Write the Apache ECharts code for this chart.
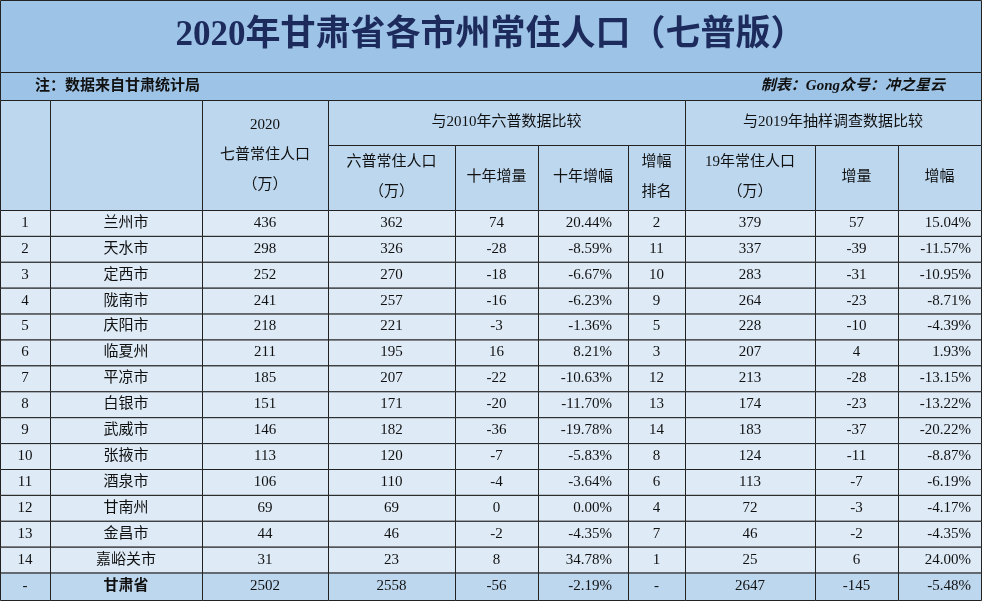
<!DOCTYPE html>
<html><head><meta charset="utf-8">
<script src="https://cdn.jsdelivr.net/npm/echarts@6/dist/echarts.min.js"></script>
<style>html,body{margin:0;padding:0;background:#fff}#main{width:982px;height:601px}</style>
</head><body><div id="main"></div>
<script>
var cities = ['兰州市','天水市','定西市','陇南市','庆阳市','临夏州','平凉市','白银市','武威市','张掖市','酒泉市','甘南州','金昌市','嘉峪关市'];
var pop2020 = [436,298,252,241,218,211,185,151,146,113,106,69,44,31];
var pop2010 = [362,326,270,257,221,195,207,171,182,120,110,69,46,23];
var change10 = [74,-28,-18,-16,-3,16,-22,-20,-36,-7,-4,0,-2,8];
var pct10 = ['20.44%','-8.59%','-6.67%','-6.23%','-1.36%','8.21%','-10.63%','-11.70%','-19.78%','-5.83%','-3.64%','0.00%','-4.35%','34.78%'];
var rank10 = [2,11,10,9,5,3,12,13,14,8,6,4,7,1];
var pop2019 = [379,337,283,264,228,207,213,174,183,124,113,72,46,25];
var change19 = [57,-39,-31,-23,-10,4,-28,-23,-37,-11,-7,-3,-2,6];
var pct19 = ['15.04%','-11.57%','-10.95%','-8.71%','-4.39%','1.93%','-13.15%','-13.22%','-20.22%','-8.87%','-6.19%','-4.17%','-4.35%','24.00%'];
var total = ['-','甘肃省','2502','2558','-56','-2.19%','-','2647','-145','-5.48%'];

var colX = [0,50,202,328,455,538,628,685,815,898,981];
var align = ['center','center','center','center','center','right','center','center','center','right'];
var padR = [6,6,6,6,6,16,6,6,6,10];
var rowTop = 210, rowH = 25.9;

var cells = [];
function cell(x0,x1,y0,y1,text,bg,opt){ cells.push([x0,x1,y0,y1,text,bg,opt||{}]); }
var titleBg = '#9dc3e6', headBg = '#bdd7ee', bodyBg = '#deebf7';
cell(0,981,0,72,'2020年甘肃省各市州常住人口（七普版）',titleBg,{size:35,weight:'bold',color:'#1c2a5c'});
cell(0,981,72,100,'',titleBg,{});
cell(0,490,72,100,'注：数据来自甘肃统计局',null,{align:'left',pad:35,weight:'bold',size:15,noborder:true});
cell(490,981,72,100,'制表：Gong众号：冲之星云',null,{align:'right',pad:36,weight:'bold',style:'italic',size:15,noborder:true});
cell(0,50,100,210,'',headBg);
cell(50,202,100,210,'',headBg);
cell(202,328,100,210,'2020\n七普常住人口\n（万）',headBg,{lh:30});
cell(328,685,100,145,'与2010年六普数据比较',headBg);
cell(685,981,100,145,'与2019年抽样调查数据比较',headBg);
var sub = ['六普常住人口\n（万）','十年增量','十年增幅','增幅\n排名','19年常住人口\n（万）','增量','增幅'];
for (var s=0;s<sub.length;s++) cell(colX[s+3],colX[s+4],145,210,sub[s],headBg,{lh:30});
for (var i=0;i<cities.length;i++){
  var row = [String(i+1),cities[i],pop2020[i],pop2010[i],change10[i],pct10[i],rank10[i],pop2019[i],change19[i],pct19[i]];
  var y0 = rowTop+i*rowH;
  for (var c=0;c<10;c++) cell(colX[c],colX[c+1],y0,y0+rowH,String(row[c]),bodyBg,{align:align[c],pad:padR[c]});
}
var ty = rowTop+cities.length*rowH;
for (var c=0;c<10;c++) cell(colX[c],colX[c+1],ty,600,total[c],headBg,{align:align[c],pad:padR[c],weight:c==1?'bold':'normal'});

var option = {
  animation:false,
  grid:{left:0,right:0,top:0,bottom:0},
  xAxis:{type:'value',min:0,max:982,show:false},
  yAxis:{type:'value',min:0,max:601,inverse:true,show:false},
  series:[{
    type:'custom',
    data:cells,
    renderItem:function(params,api){
      var d = cells[params.dataIndex], o = d[6];
      var p0 = api.coord([d[0],d[2]]), p1 = api.coord([d[1],d[3]]);
      var w = p1[0]-p0[0], h = p1[1]-p0[1];
      var al = o.align||'center', pad = o.pad!=null?o.pad:6;
      var tx = al=='left'?p0[0]+pad:(al=='right'?p1[0]-pad:p0[0]+w/2);
      var children = [];
      if (d[5] || !o.noborder) children.push({type:'rect',shape:{x:p0[0]+0.5,y:p0[1]+0.5,width:w,height:h},
        style:{fill:d[5]||'none',stroke:o.noborder?null:'#222',lineWidth:1}});
      children.push({type:'text',style:{x:tx,y:p0[1]+h/2,text:d[4],align:al,verticalAlign:'middle',
        fill:o.color||'#111',fontSize:o.size||15,fontWeight:o.weight||'normal',fontStyle:o.style||'normal',
        lineHeight:o.lh||18,fontFamily:"'Liberation Serif','Noto Sans CJK SC',serif"}});
      return {type:'group',children:children};
    }
  }]
};
var myChart = echarts.init(document.getElementById('main'));
myChart.setOption(option);
</script></body></html>
